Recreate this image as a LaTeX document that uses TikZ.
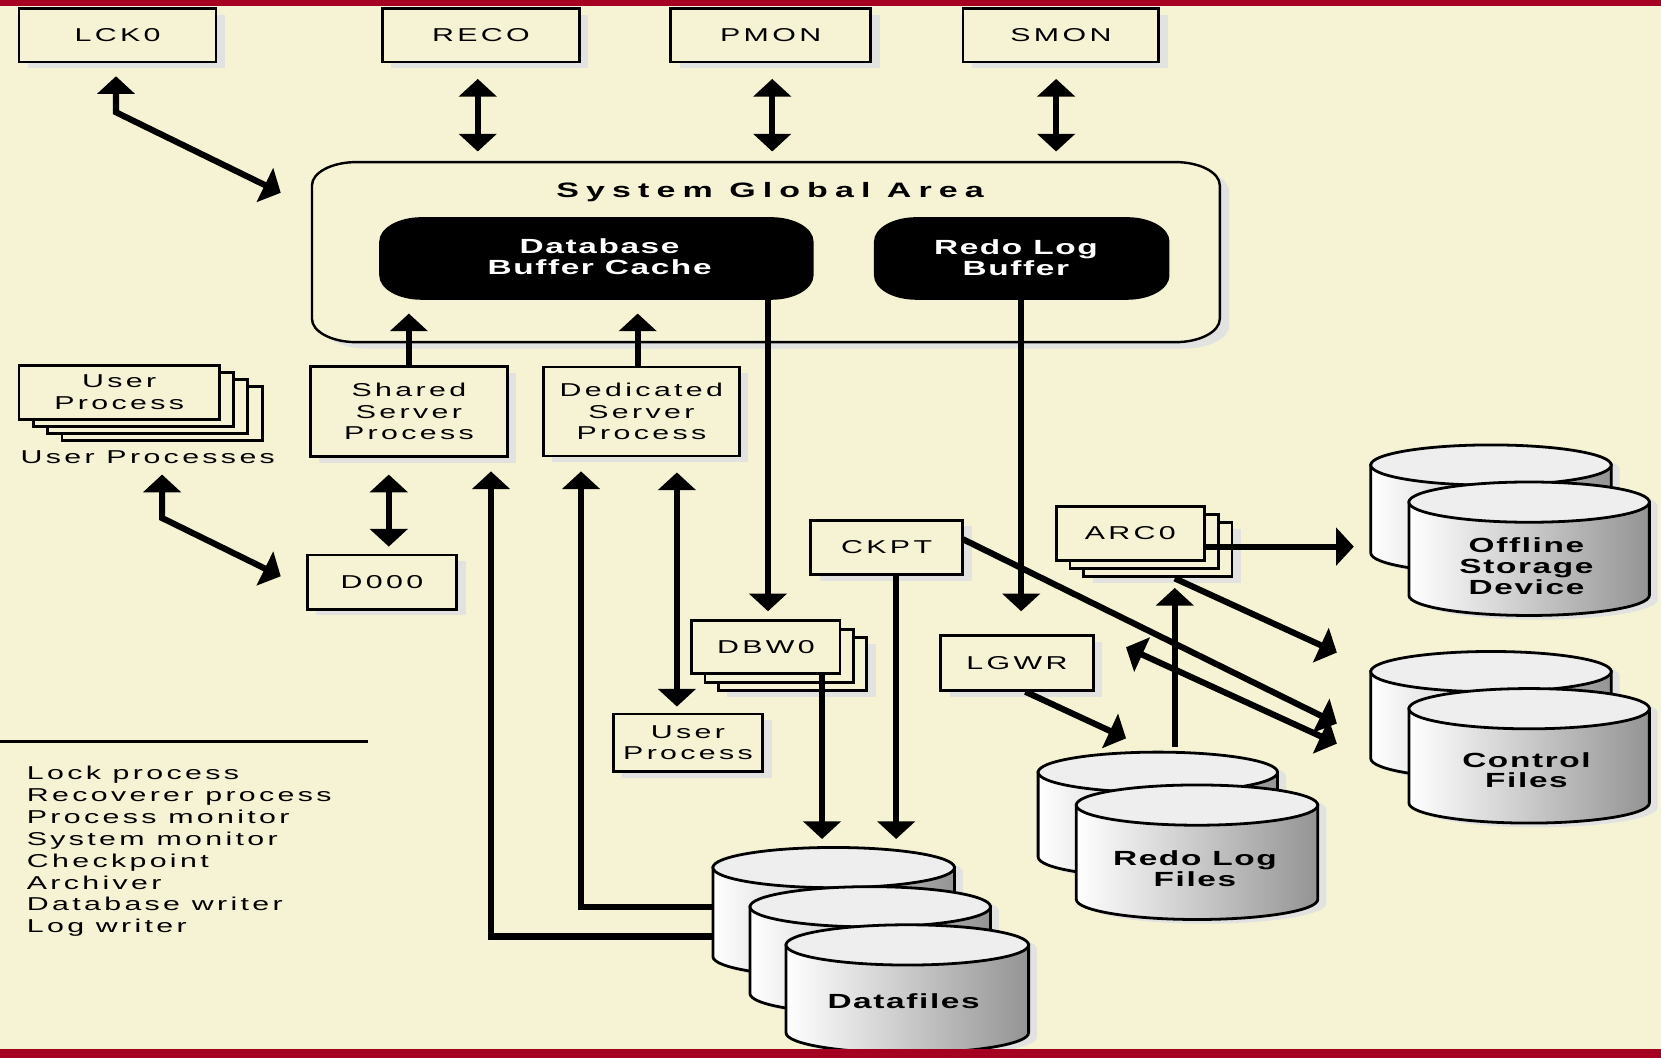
\documentclass[tikz,border=0pt]{standalone}
\usepackage{fontspec}
\usetikzlibrary{arrows.meta,shadows}
\newfontfamily\rf[FakeStretch=1.63,LetterSpace=18]{Liberation Sans}
\newfontfamily\rfb[FakeStretch=1.63,LetterSpace=8]{Liberation Sans}
\newfontfamily\rft[FakeStretch=1.63,LetterSpace=34]{Liberation Sans}
\definecolor{bg}{RGB}{246,243,212}
\definecolor{bar}{RGB}{165,0,33}
\definecolor{shd}{RGB}{226,226,224}
\definecolor{topg}{RGB}{238,238,238}
\newcommand\ovalrect[6]{(#1+#5,#2) -- (#3-#5,#2) arc[start angle=-90,end angle=0,x radius=#5,y radius=#6] -- (#3,#4-#6) arc[start angle=0,end angle=90,x radius=#5,y radius=#6] -- (#1+#5,#4) arc[start angle=90,end angle=180,x radius=#5,y radius=#6] -- (#1,#2+#6) arc[start angle=180,end angle=270,x radius=#5,y radius=#6] -- cycle}
\newcommand\cyl[4]{%
  \pgfmathsetmacro\cylrx{(#2-#1)/2}%
  \pgfmathsetmacro\cylcx{(#2+#1)/2}%
  \fill[shd,shift={(8,4)}] (#1,#3+19) -- (#1,#4-19) arc[start angle=180,end angle=0,x radius=\cylrx,y radius=19] -- (#2,#3+19) arc[start angle=0,end angle=-180,x radius=\cylrx,y radius=19] -- cycle;
  \draw[line width=1.5pt,left color=white,right color=black!42] (#1,#3+19) -- (#1,#4-19) arc[start angle=180,end angle=0,x radius=\cylrx,y radius=19] -- (#2,#3+19) -- cycle;
  \draw[line width=1.5pt,fill=topg] (\cylcx,#3+19) ellipse[x radius=\cylrx,y radius=19];
}
\tikzset{
  bigtri/.tip={Triangle[width=20pt,length=9.5pt]},
  arr/.style={line width=3.3pt,-bigtri},
  darr/.style={line width=3.3pt,bigtri-bigtri},
  nbox/.style={draw,line width=1.5pt,fill=bg,inner sep=0pt,align=center,font=\rf\fontsize{10}{11.7}\selectfont},
  box/.style={nbox,drop shadow={shadow xshift=0.17cm,shadow yshift=-0.12cm,fill=shd,opacity=1}},
  lbl/.style={inner sep=0pt,align=center,font=\rf\fontsize{10}{11.7}\selectfont},
  blbl/.style={inner sep=0pt,align=center,font=\rfb\bfseries\fontsize{11}{11.2}\selectfont},
}
\begin{document}
\begin{tikzpicture}[x={(0.02cm,0)},y={(0,-0.02cm)}]
\useasboundingbox (0,0) rectangle (1568,998);
\fill[bg] (0,0) rectangle (1568,998);

% System Global Area
\fill[shd,shift={(9,6)}] \ovalrect{294.5}{153}{1151.5}{323}{42}{22};
\draw[line width=1.3pt,fill=bg] \ovalrect{294.5}{153}{1151.5}{323}{42}{22};
\node[minimum width=17.14cm,minimum height=3.4cm,inner sep=0pt] (sga) at (723,238) {};
\node[inner sep=0pt,anchor=base,font=\rft\bfseries\fontsize{11.2}{12}\selectfont] (sgat) at (727,186) {System Global Area};
\fill[black] \ovalrect{358}{205}{768}{283}{40}{23};
\fill[black] \ovalrect{825}{205}{1104}{283}{40}{23};
\node[blbl,text=white,minimum width=8.2cm,minimum height=1.64cm] (dbbc) at (566,242) {Database\\Buffer Cache};
\node[blbl,text=white,minimum width=5.58cm,minimum height=1.6cm] (rlb) at (959,243) {Redo Log\\Buffer};

% top boxes
\node[box,minimum width=3.72cm,minimum height=1.01cm] (lck) at (111,33.25) {LCK0};
\node[box,minimum width=3.72cm,minimum height=1.01cm] (reco) at (454,33.25) {RECO};
\node[box,minimum width=3.78cm,minimum height=1.01cm] (pmon) at (727.5,33.25) {PMON};
\node[box,minimum width=3.70cm,minimum height=1.01cm] (smon) at (1001.5,33.25) {SMON};

% process boxes
\node[box,minimum width=3.72cm,minimum height=1.7cm] (shared) at (386,388.5) {Shared\\Server\\Process};
\node[box,minimum width=3.70cm,minimum height=1.68cm] (dedic) at (605.5,388.5) {Dedicated\\Server\\Process};
\node[box,minimum width=2.82cm,minimum height=1.02cm] (d000) at (360.5,549.5) {D000};
\node[box,minimum width=2.82cm,minimum height=1.08cm] (uproc2) at (649.5,701) {User\\Process};
\node[box,minimum width=2.87cm,minimum height=1.02cm] (ckpt) at (837,516.5) {CKPT};
\node[box,minimum width=2.88cm,minimum height=1.04cm] (lgwr) at (960,626) {LGWR};

% user process stack
\node[nbox,minimum width=3.78cm,minimum height=1.02cm] (up3) at (153,390) {};
\node[nbox,minimum width=3.78cm,minimum height=1.02cm] (up2) at (139.5,383.5) {};
\node[nbox,minimum width=3.78cm,minimum height=1.02cm] (up1) at (126,377) {};
\node[nbox,minimum width=3.78cm,minimum height=1.02cm] (uproc) at (112.5,370.5) {User\\Process};
\node[lbl] (uprocl) at (139.5,432) {User Processes};

% DBW0 stack
\node[box,minimum width=2.8cm,minimum height=1.0cm] (dbw2) at (748,627) {};
\node[nbox,minimum width=2.8cm,minimum height=1.0cm] (dbw1) at (735.5,619) {};
\node[nbox,minimum width=2.8cm,minimum height=1.0cm] (dbw0) at (723,611) {DBW0};

% ARC0 stack
\node[box,minimum width=2.8cm,minimum height=1.02cm] (arc2) at (1093,518.5) {};
\node[nbox,minimum width=2.8cm,minimum height=1.02cm] (arc1) at (1080,511) {};
\node[nbox,minimum width=2.8cm,minimum height=1.02cm] (arc0) at (1067,503.5) {ARC0};

% cylinders
\cyl{1294}{1521}{420}{541}
\cyl{1330}{1557}{455}{581}
\cyl{1294}{1521}{615}{735}
\cyl{1330}{1557}{650}{777}
\cyl{980}{1206}{710}{828}
\cyl{1016}{1244}{741}{868}
\cyl{673}{901}{800}{922}
\cyl{708}{935}{837}{957}
\cyl{742}{971}{873}{994}
\node[blbl] (offl) at (1441,534.5) {Offline\\Storage\\Device};
\node[blbl] (ctrl) at (1441,727) {Control\\Files};
\node[blbl] (redo) at (1128,820) {Redo Log\\Files};
\node[blbl] (dataf) at (853,945) {Datafiles};

% coordinates for connector ends
\coordinate (lckup) at (109.5,72);
\coordinate (lckc) at (109.5,106);
\coordinate (lcksga) at (265,182);
\coordinate (recoa) at (451,74.5);
\coordinate (recob) at (451,143);
\coordinate (pmona) at (729,74.5);
\coordinate (pmonb) at (729,143);
\coordinate (smona) at (997,74.5);
\coordinate (smonb) at (997,143);
\coordinate (shtip) at (386,296);
\coordinate (detip) at (602,296);
\coordinate (dbwtip) at (725,577);
\coordinate (lgtip) at (964,577);
\coordinate (sda) at (367,448);
\coordinate (sdb) at (367,516);
\coordinate (upa) at (153,448);
\coordinate (upc) at (153,489);
\coordinate (upb) at (265,544);
\coordinate (df1a) at (673,884);
\coordinate (sh2tip) at (463.5,445);
\coordinate (df1b) at (673,856);
\coordinate (de2tip) at (548.5,445);
\coordinate (deua) at (639,446);
\coordinate (deub) at (639,667);
\coordinate (dbwdf) at (776,792);
\coordinate (ckdf) at (846,792);
\coordinate (ckst) at (909,509);
\coordinate (ckcf) at (1262,683);
\coordinate (lgcfa) at (1063,611);
\coordinate (lgcfb) at (1262,702);
\coordinate (lgst) at (968,653);
\coordinate (lgrd) at (1063,697);
\coordinate (rdst) at (1109,705);
\coordinate (arctip) at (1109,555);
\coordinate (arcof) at (1278,516);
\coordinate (arcst) at (1109,546);
\coordinate (arccf) at (1262,616);

% connectors
\draw[darr] (lckup) -- (lckc) -- (lcksga);
\draw[darr] (recoa) -- (recob);
\draw[darr] (pmona) -- (pmonb);
\draw[darr] (smona) -- (smonb);
\draw[arr] (shared.north) -- (shtip);
\draw[arr] (dedic.north -| detip) -- (detip);
\draw[arr] (dbbc.south -| dbwtip) -- (dbwtip);
\draw[arr] (rlb.south -| lgtip) -- (lgtip);
\draw[darr] (sda) -- (sdb);
\draw[darr] (upa) -- (upc) -- (upb);
\draw[arr] (df1a) -| (sh2tip);
\draw[arr] (df1b) -| (de2tip);
\draw[darr] (deua) -- (deub);
\draw[arr] (dbw0.south -| dbwdf) -- (dbwdf);
\draw[arr] (ckpt.south -| ckdf) -- (ckdf);
\draw[arr] (ckst) -- (ckcf);
\draw[darr] (lgcfa) -- (lgcfb);
\draw[arr] (lgst) -- (lgrd);
\draw[arr] (rdst) -- (arctip);
\draw[arr] (arc0.east |- arcof) -- (arcof);
\draw[arr] (arcst) -- (arccf);

% legend
\coordinate (legl) at (0,700);
\coordinate (legr) at (347,700);
\draw[line width=1.6pt] (legl) -- (legr);
\node[lbl,anchor=base west] (leg1) at (25,736.3) {Lock process};
\node[lbl,anchor=base west] (leg2) at (25,756.8) {Recoverer process};
\node[lbl,anchor=base west] (leg3) at (25,777.3) {Process monitor};
\node[lbl,anchor=base west] (leg4) at (25,797.8) {System monitor};
\node[lbl,anchor=base west] (leg5) at (25,818.8) {Checkpoint};
\node[lbl,anchor=base west] (leg6) at (25,839.3) {Archiver};
\node[lbl,anchor=base west] (leg7) at (25,859.3) {Database writer};
\node[lbl,anchor=base west] (leg8) at (25,880) {Log writer};

% red bars
\fill[bar] (-2,-2) rectangle (1570,6);
\fill[bar] (-2,990) rectangle (1570,1002);
\end{tikzpicture}
\end{document}
